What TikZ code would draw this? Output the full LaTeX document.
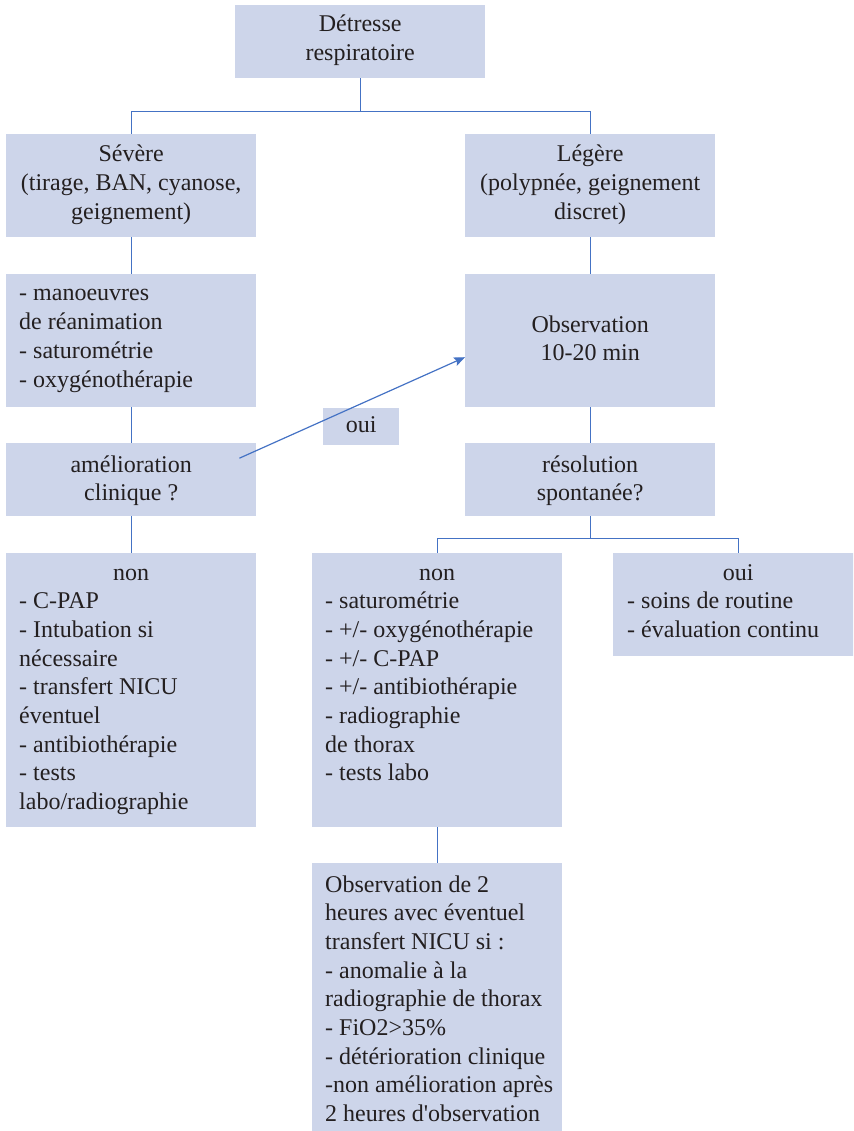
\documentclass[tikz,border=0pt]{standalone}
\usepackage{fontspec}
\setmainfont{Liberation Serif}
\usetikzlibrary{arrows.meta}
\definecolor{boxfill}{RGB}{205,213,234}
\definecolor{linkblue}{RGB}{68,114,196}
\definecolor{ink}{RGB}{35,31,32}

\begin{document}
\begin{tikzpicture}[x=1pt,y=-1pt,
  box/.style={fill=boxfill, draw=none, inner sep=0pt, anchor=north west,
              minimum width=250pt},
  link/.style={draw=linkblue, line width=1.2pt},
  lbl/.style={inner sep=0pt, text=ink, anchor=base,
              font=\fontsize{24}{28.7}\selectfont},
  tip/.style={-{Stealth[length=11pt,width=9pt,inset=2pt]}},
]
\useasboundingbox (0,0) rectangle (853,1131);
\clip (0,0) rectangle (853,1131);

% boxes
\node[box, minimum height=73pt]  (top)  at (235,5)   {};
\node[box, minimum height=103pt] (sev)  at (6,134)   {};
\node[box, minimum height=103pt] (leg)  at (465,134) {};
\node[box, minimum height=133pt] (man)  at (6,274)   {};
\node[box, minimum height=133pt] (obs)  at (465,274) {};
\node[box, minimum width=76pt, minimum height=37pt] (ouiq) at (323,408) {};
\node[box, minimum height=73pt]  (ame)  at (6,443)   {};
\node[box, minimum height=73pt]  (res)  at (465,443) {};
\node[box, minimum height=274pt] (nonl) at (6,553)   {};
\node[box, minimum height=274pt] (nonm) at (312,553) {};
\node[box, minimum height=103pt] (ouir) at (613,553) {};
\node[box, minimum height=275pt] (obs2) at (312,863) {};

% texts
\node[lbl] (ttop) at ([yshift=-27pt]top.north)
  {\parbox[t]{240pt}{\centering Détresse\\respiratoire}};
\node[lbl] (tsev) at ([yshift=-28pt]sev.north)
  {\parbox[t]{240pt}{\centering Sévère\\(tirage, BAN, cyanose,\\geignement)}};
\node[lbl] (tleg) at ([yshift=-28pt]leg.north)
  {\parbox[t]{240pt}{\centering Légère\\(polypnée, geignement\\discret)}};
\node[lbl] (tman) at ([yshift=-27pt]man.north)
  {\parbox[t]{224pt}{\raggedright - manoeuvres\\de réanimation\\- saturométrie\\- oxygénothérapie}};
\node[lbl] (tobs) at ([yshift=-58pt]obs.north)
  {\parbox[t]{240pt}{\centering Observation\\10-20 min}};
\node[lbl] (touiq) at ([yshift=-24pt]ouiq.north) {oui};
\node[lbl] (tame) at ([yshift=-29pt]ame.north)
  {\parbox[t]{240pt}{\centering amélioration\\clinique ?}};
\node[lbl] (tres) at ([yshift=-29pt]res.north)
  {\parbox[t]{240pt}{\centering résolution\\spontanée?}};
\node[lbl] (tnonl) at ([yshift=-27pt]nonl.north)
  {\parbox[t]{224pt}{\centering non\par\raggedright
   - C-PAP\\- Intubation si\\nécessaire\\- transfert NICU\\éventuel\\%
   - antibiothérapie\\- tests\\labo/radiographie}};
\node[lbl] (tnonm) at ([yshift=-27pt]nonm.north)
  {\parbox[t]{224pt}{\centering non\par\raggedright
   - saturométrie\\- +/- oxygénothérapie\\- +/- C-PAP\\%
   - +/- antibiothérapie\\- radiographie\\de thorax\\- tests labo}};
\node[lbl] (touir) at ([yshift=-27pt]ouir.north)
  {\parbox[t]{222pt}{\centering oui\par\raggedright
   - soins de routine\\- évaluation continu}};
\node[lbl, anchor=base west] (tobs2) at ([xshift=13pt,yshift=-29pt]obs2.north west)
  {\parbox[t]{245pt}{\raggedright Observation de 2\\heures avec éventuel\\%
   transfert NICU si :\\- anomalie à la\\radiographie de thorax\\%
   - FiO2>35\%\\- détérioration clinique\\-non amélioration après\\%
   2 heures d\textquotesingle observation}};

% connectors
\draw[link] (top.south) -- ++(0,33) -| (sev.north);
\draw[link] (top.south) -- ++(0,33) -| (leg.north);
\draw[link] (sev.south) -- (man.north);
\draw[link] (man.south) -- (ame.north);
\draw[link] (ame.south) -- (nonl.north);
\draw[link] (leg.south) -- (obs.north);
\draw[link] (obs.south) -- (res.north);
\draw[link] (res.south) -- ++(0,22) -| (nonm.north);
\draw[link] (res.south) -- ++(0,22) -| (ouir.north);
\draw[link] (nonm.south) -- (obs2.north);
\draw[link, tip] ([shift={(-17pt,21.5pt)}]ame.east) -- ([yshift=-16.5pt]obs.west);
\end{tikzpicture}
\end{document}
